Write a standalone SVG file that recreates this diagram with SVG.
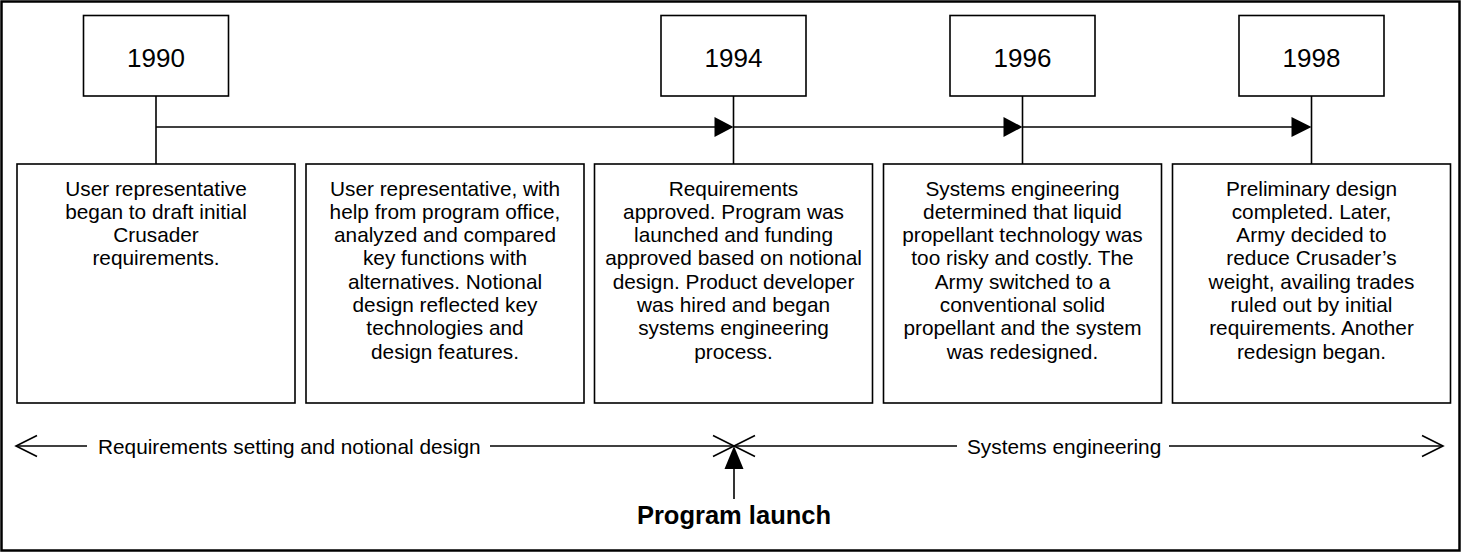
<svg xmlns="http://www.w3.org/2000/svg" width="1467" height="552" viewBox="0 0 1467 552">
<style>
  .frame { fill: #fff; stroke: #000; stroke-width: 2.5; }
  .box { fill: #fff; stroke: #000; stroke-width: 1.6; }
  .ln { fill: none; stroke: #000; stroke-width: 1.6; }
  .year { font-family: "Liberation Sans", Arial, sans-serif; font-size: 26px; fill: #000; text-anchor: middle; }
  .body { font-family: "Liberation Sans", Arial, sans-serif; font-size: 20.8px; fill: #000; text-anchor: middle; }
  .lbl { font-family: "Liberation Sans", Arial, sans-serif; font-size: 20.8px; fill: #000; }
  .launch { font-family: "Liberation Sans", Arial, sans-serif; font-size: 25.5px; font-weight: bold; fill: #000; text-anchor: middle; }
  .head { fill: #000; stroke: none; }
</style>
<rect class="frame" x="1.5" y="1.5" width="1458" height="549"/>

<g id="connectors">
  <line class="ln" x1="156" y1="127" x2="716" y2="127"/>
  <line class="ln" x1="733.5" y1="127" x2="1005" y2="127"/>
  <line class="ln" x1="1022.5" y1="127" x2="1293" y2="127"/>
  <polygon class="head" points="733.5,127 714.5,117 714.5,137"/>
  <polygon class="head" points="1022.5,127 1003.5,117 1003.5,137"/>
  <polygon class="head" points="1311.5,127 1291.5,117 1291.5,137"/>
  <line class="ln" x1="156" y1="96" x2="156" y2="164"/>
  <line class="ln" x1="733.5" y1="96" x2="733.5" y2="164"/>
  <line class="ln" x1="1022.5" y1="96" x2="1022.5" y2="164"/>
  <line class="ln" x1="1311.5" y1="96" x2="1311.5" y2="164"/>
</g>

<g id="y1990">
  <rect class="box" x="83.5" y="15.5" width="145" height="80.5"/>
  <text class="year" x="156" y="67">1990</text>
</g>
<g id="y1994">
  <rect class="box" x="661" y="15.5" width="145" height="80.5"/>
  <text class="year" x="733.5" y="67">1994</text>
</g>
<g id="y1996">
  <rect class="box" x="950" y="15.5" width="145" height="80.5"/>
  <text class="year" x="1022.5" y="67">1996</text>
</g>
<g id="y1998">
  <rect class="box" x="1239" y="15.5" width="145" height="80.5"/>
  <text class="year" x="1311.5" y="67">1998</text>
</g>

<g id="box1">
  <rect class="box" x="17" y="164" width="278" height="239"/>
  <text class="body" x="156" y="195.5">User representative</text>
  <text class="body" x="156" y="218.8">began to draft initial</text>
  <text class="body" x="156" y="242.1">Crusader</text>
  <text class="body" x="156" y="265.4">requirements.</text>
</g>
<g id="box2">
  <rect class="box" x="306" y="164" width="278" height="239"/>
  <text class="body" x="445" y="195.5">User representative, with</text>
  <text class="body" x="445" y="218.8">help from program office,</text>
  <text class="body" x="445" y="242.1">analyzed and compared</text>
  <text class="body" x="445" y="265.4">key functions with</text>
  <text class="body" x="445" y="288.7">alternatives. Notional</text>
  <text class="body" x="445" y="312">design reflected key</text>
  <text class="body" x="445" y="335.3">technologies and</text>
  <text class="body" x="445" y="358.6">design features.</text>
</g>
<g id="box3">
  <rect class="box" x="594.5" y="164" width="278" height="239"/>
  <text class="body" x="733.5" y="195.5">Requirements</text>
  <text class="body" x="733.5" y="218.8">approved. Program was</text>
  <text class="body" x="733.5" y="242.1">launched and funding</text>
  <text class="body" x="733.5" y="265.4">approved based on notional</text>
  <text class="body" x="733.5" y="288.7">design. Product developer</text>
  <text class="body" x="733.5" y="312">was hired and began</text>
  <text class="body" x="733.5" y="335.3">systems engineering</text>
  <text class="body" x="733.5" y="358.6">process.</text>
</g>
<g id="box4">
  <rect class="box" x="883.5" y="164" width="278" height="239"/>
  <text class="body" x="1022.5" y="195.5">Systems engineering</text>
  <text class="body" x="1022.5" y="218.8">determined that liquid</text>
  <text class="body" x="1022.5" y="242.1">propellant technology was</text>
  <text class="body" x="1022.5" y="265.4">too risky and costly. The</text>
  <text class="body" x="1022.5" y="288.7">Army switched to a</text>
  <text class="body" x="1022.5" y="312">conventional solid</text>
  <text class="body" x="1022.5" y="335.3">propellant and the system</text>
  <text class="body" x="1022.5" y="358.6">was redesigned.</text>
</g>
<g id="box5">
  <rect class="box" x="1172.5" y="164" width="278" height="239"/>
  <text class="body" x="1311.5" y="195.5">Preliminary design</text>
  <text class="body" x="1311.5" y="218.8">completed. Later,</text>
  <text class="body" x="1311.5" y="242.1">Army decided to</text>
  <text class="body" x="1311.5" y="265.4">reduce Crusader’s</text>
  <text class="body" x="1311.5" y="288.7">weight, availing trades</text>
  <text class="body" x="1311.5" y="312">ruled out by initial</text>
  <text class="body" x="1311.5" y="335.3">requirements. Another</text>
  <text class="body" x="1311.5" y="358.6">redesign began.</text>
</g>

<g id="phase-requirements">
  <line class="ln" x1="16" y1="446" x2="87" y2="446"/>
  <polyline class="ln" points="37,435.5 16,446 37,456.5"/>
  <text class="lbl" x="98" y="454">Requirements setting and notional design</text>
  <line class="ln" x1="490" y1="446" x2="734" y2="446"/>
  <polyline class="ln" points="713,435.5 734,446 713,456.5"/>
</g>
<g id="phase-systems">
  <line class="ln" x1="734" y1="446" x2="957" y2="446"/>
  <polyline class="ln" points="755,435.5 734,446 755,456.5"/>
  <text class="lbl" x="967" y="454">Systems engineering</text>
  <line class="ln" x1="1169" y1="446" x2="1443" y2="446"/>
  <polyline class="ln" points="1422,435.5 1443,446 1422,456.5"/>
</g>
<g id="program-launch">
  <line class="ln" x1="734" y1="468" x2="734" y2="499"/>
  <polygon class="head" points="734,446 724.5,469 743.5,469"/>
  <text class="launch" x="734" y="524">Program launch</text>
</g>
</svg>
